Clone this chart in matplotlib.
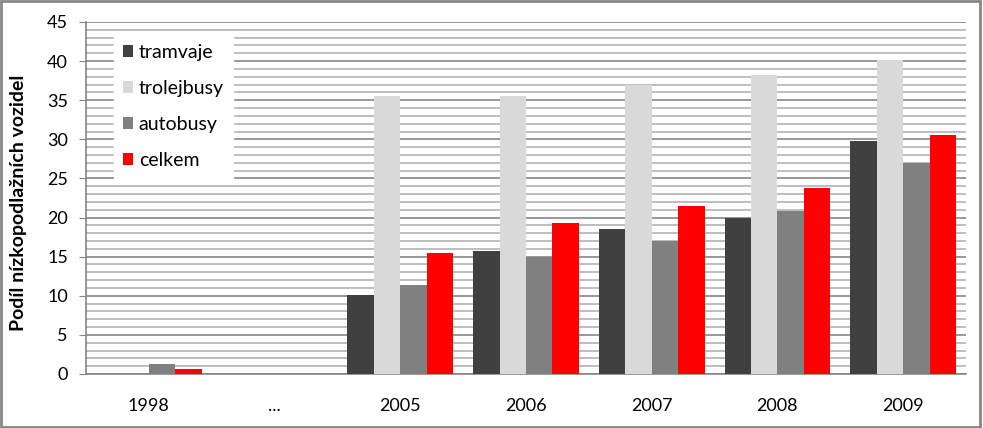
import numpy as np
from matplotlib import pyplot as plt
from matplotlib.patches import Rectangle

years = ['1998', '...', '2005', '2006', '2007', '2008', '2009']
tramvaje = [0, 0, 10.1, 15.7, 18.5, 20.0, 29.8]
trolejbusy = [0, 0, 35.6, 35.6, 37.0, 38.2, 40.2]
autobusy = [1.3, 0, 11.4, 15.0, 17.0, 20.9, 27.0]
celkem = [0.6, 0, 15.5, 19.3, 21.5, 23.8, 30.6]

plt.rcParams['font.family'] = ['Lato', 'DejaVu Sans']

fig = plt.figure(figsize=(9.83, 4.28), dpi=100)
ax = fig.add_axes([86/983, 54/428, 880/983, 352/428])

x = np.arange(len(years))
w = 0.21
series = [(tramvaje, '#404040', 'tramvaje'),
          (trolejbusy, '#d9d9d9', 'trolejbusy'),
          (autobusy, '#808080', 'autobusy'),
          (celkem, '#ff0000', 'celkem')]
for i, (vals, col, lab) in enumerate(series):
    ax.bar(x + (i - 1.5) * w, vals, w, color=col, label=lab, zorder=3)

ax.set_xlim(-0.5, len(years) - 0.5)
ax.set_ylim(0, 45)
ax.set_yticks(np.arange(0, 46, 5))
ax.set_yticks(np.arange(0, 46, 1), minor=True)
ax.grid(axis='y', which='major', color='#868686', lw=1.2, zorder=0)
ax.grid(axis='y', which='minor', color='#b3b3b3', lw=1.2, zorder=0)
ax.set_xticks(x)
ax.set_xticklabels(years)
ax.tick_params(axis='x', length=0, pad=17, labelsize=13)
ax.tick_params(axis='y', which='major', length=5, color='#868686', labelsize=13, pad=8)
ax.tick_params(axis='y', which='minor', length=0)
for s in ['top', 'right']:
    ax.spines[s].set_visible(False)
for s in ['left', 'bottom']:
    ax.spines[s].set_color('#868686')
    ax.spines[s].set_linewidth(1.2)
ax.set_ylabel('Podíl nízkopodlažních vozidel', fontweight='bold', fontsize=14)
ax.yaxis.set_label_coords(-0.067, 0.485)

leg = ax.legend(loc='upper left', bbox_to_anchor=(0.032, 0.963), frameon=True,
                fancybox=False, edgecolor='white', framealpha=1, fontsize=14,
                handlelength=0.52, handleheight=0.52, handletextpad=0.3,
                labelspacing=0.98, borderpad=0.45, borderaxespad=0)
leg.set_zorder(5)

fig.patches.append(Rectangle((0.001, 0.002), 0.996, 0.995, transform=fig.transFigure,
                             fill=False, edgecolor='#868686', lw=2))

fig.savefig('out.png', dpi=100)
